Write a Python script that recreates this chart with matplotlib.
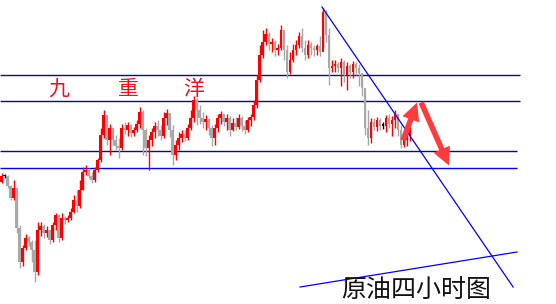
import matplotlib
matplotlib.use("Agg")
import matplotlib.pyplot as plt
from matplotlib.patches import FancyArrowPatch
import numpy as np

# Crude oil, 4-hour candles
close = [62.4, 62.4, 61.4, 60.2, 61.2, 57.2, 53.8, 55.2, 56.2, 55.8,
         55.0, 52.8, 57.0, 57.4, 56.7, 57.0, 56.0, 57.5, 58.5, 56.2,
         58.2, 58.0, 58.2, 58.8, 60.0, 59.4, 61.0, 62.8, 63.0, 62.4,
         62.0, 63.0, 64.0, 66.5, 68.5, 66.0, 67.2, 66.0, 65.4, 65.2,
         67.2, 67.0, 67.5, 66.7, 67.0, 67.6, 68.8, 67.0, 65.2, 66.0,
         66.8, 67.4, 67.0, 66.4, 68.2, 68.7, 67.0, 64.5, 65.5, 66.2,
         66.6, 66.2, 67.2, 68.2, 70.0, 69.0, 68.2, 67.8, 68.1, 67.2,
         66.2, 67.2, 68.2, 68.6, 67.8, 68.2, 67.0, 67.7, 67.3, 68.2,
         67.4, 67.0, 68.0, 68.3, 69.5, 72.0, 74.5, 75.8, 76.6, 75.6,
         75.8, 75.0, 75.2, 77.0, 75.0, 72.8, 74.0, 75.0, 75.5, 76.4,
         75.2, 74.5, 75.5, 75.2, 75.0, 75.4, 74.8, 78.8, 76.5, 73.2,
         73.4, 73.6, 73.2, 73.8, 72.5, 73.4, 72.8, 73.6, 73.2, 72.7,
         71.2, 67.2, 66.2, 67.8, 67.3, 68.0, 67.4, 67.4, 68.2, 67.6,
         68.0, 68.6, 67.0, 65.5, 66.0, 66.4, 67.0]
high = [62.7, 62.6, 62.5, 61.5, 62.0, 61.0, 57.5, 55.5, 56.6, 56.4,
        56.0, 56.0, 57.8, 57.8, 57.6, 57.4, 57.0, 57.8, 58.7, 58.6,
        58.7, 58.4, 58.5, 59.2, 60.5, 61.0, 62.0, 63.3, 63.5, 63.2,
        62.8, 63.3, 64.2, 67.2, 69.0, 68.5, 67.6, 67.2, 66.5, 66.2,
        67.6, 67.8, 67.8, 67.6, 67.3, 68.0, 69.3, 69.0, 67.2, 66.5,
        67.2, 67.8, 68.0, 67.5, 68.8, 69.1, 68.5, 67.5, 66.0, 66.8,
        67.0, 67.0, 67.6, 69.0, 70.4, 70.2, 69.5, 68.8, 68.5, 68.2,
        67.5, 67.6, 68.6, 68.9, 68.6, 68.6, 68.4, 68.2, 68.3, 68.6,
        68.4, 68.0, 68.3, 68.6, 70.0, 72.5, 75.5, 77.0, 77.2, 76.8,
        76.2, 76.0, 75.6, 77.5, 76.8, 75.5, 74.8, 75.6, 76.0, 76.8,
        77.2, 76.0, 76.0, 75.8, 75.5, 75.6, 76.4, 79.2, 79.0, 77.2,
        74.0, 74.0, 73.8, 74.2, 74.0, 73.8, 73.6, 73.9, 73.8, 73.6,
        72.5, 70.8, 69.0, 68.2, 68.2, 68.3, 68.2, 67.8, 68.5, 68.6,
        68.4, 69.0, 68.6, 67.5, 66.3, 66.7, 67.3]
low = [61.7, 62.2, 61.2, 60.0, 60.0, 56.7, 53.2, 53.4, 55.0, 55.4,
       53.8, 51.8, 52.5, 56.4, 56.2, 56.3, 55.6, 55.8, 57.0, 55.8,
       56.0, 57.6, 57.8, 58.0, 58.7, 58.8, 59.2, 61.0, 62.5, 62.2,
       61.7, 61.8, 62.8, 63.8, 66.2, 65.5, 64.5, 65.5, 65.0, 64.2,
       65.0, 66.6, 66.4, 66.3, 66.4, 66.8, 67.2, 64.5, 64.4, 63.0,
       65.4, 66.2, 66.4, 66.0, 66.2, 67.5, 66.3, 63.5, 64.0, 65.0,
       65.8, 65.9, 66.0, 67.0, 67.8, 67.5, 67.6, 67.2, 67.0, 66.5,
       65.4, 65.5, 66.8, 67.6, 67.4, 67.0, 66.4, 66.9, 67.0, 67.1,
       66.9, 66.6, 66.8, 67.4, 68.0, 69.2, 71.8, 74.2, 75.5, 75.0,
       74.8, 74.4, 74.5, 75.0, 74.0, 72.2, 72.6, 73.8, 74.5, 75.2,
       74.8, 74.0, 74.2, 74.5, 74.4, 74.5, 74.4, 75.2, 75.8, 71.5,
       72.8, 72.8, 72.8, 71.4, 71.8, 71.0, 72.2, 72.2, 72.5, 71.4,
       70.4, 66.5, 65.5, 65.7, 67.0, 66.9, 67.0, 67.1, 66.8, 67.2,
       66.4, 67.2, 66.4, 65.2, 65.3, 65.4, 65.9]
open_first = 61.8

# Horizontal support / resistance levels
levels = [72.5, 69.9, 64.9]
neckline = 63.2
level_ends = [172.8, 172.8, 171.8]
neckline_end = 171.8

# Trend lines: (bar index, price) pairs
falling_trend = [(106.8, 79.3), (170.5, 51.3)]
rising_trend = [(99.5, 51.3), (171.8, 54.8)]

# Projected path: bounce then drop
bounce = [(133.5, 65.7), (138.8, 70.0)]
drop = [(139.5, 70.0), (149.5, 63.2)]

brand = ["九", "重", "洋"]
brand_x = [19.2, 42.2, 64.0]
brand_y = 71.1
title = "原油四小时图"

opens = [open_first] + close[:-1]
idx = np.arange(len(close))

fig = plt.figure(figsize=(5.56, 3.04), dpi=100)
ax = fig.add_axes([0, 0, 1, 1])
ax.set_xlim(-0.5, 184.8)
ax.set_ylim(49.6, 80.0)
ax.axis("off")

for i, o, c, h, l in zip(idx, opens, close, high, low):
    if c > o:
        col = "#ff0000"
    elif c < o:
        col = "#a8a8a8"
    else:
        col = "#000000"
    ax.vlines(i, l, h, color=col, lw=1.0, zorder=2)
    bottom = min(o, c)
    height = max(abs(c - o), 0.15)
    ax.bar(i, height, bottom=bottom, width=0.7, color=col, lw=0, zorder=3)

for lv, end in zip(levels, level_ends):
    ax.hlines(lv, -0.5, end, color="#0a0a8a", lw=1.0, zorder=1)
ax.hlines(neckline, -0.5, neckline_end, color="#0000ff", lw=1.0, zorder=1)

for seg in (falling_trend, rising_trend):
    (x0, y0), (x1, y1) = seg
    ax.plot([x0, x1], [y0, y1], color="#0000ff", lw=0.9, zorder=4)

for (x0, y0), (x1, y1) in (bounce, drop):
    arr = FancyArrowPatch((x0, y0), (x1, y1), arrowstyle="simple,head_width=1.6,head_length=1.6,tail_width=0.5",
                          mutation_scale=8, color="#ff3b3b", lw=0, zorder=5)
    ax.add_patch(arr)

for ch, bx in zip(brand, brand_x):
    ax.text(bx, brand_y, ch, color="#e8141e", fontsize=15, fontweight="light",
            family=["Noto Sans CJK SC", "DejaVu Sans"], ha="center", va="center", zorder=6)

ax.text(138.3, 50.9, title, color="#111111", fontsize=18, fontweight="light",
        family=["Noto Sans CJK SC", "DejaVu Sans"], ha="center", va="center", zorder=6)

fig.savefig("out.png", dpi=100)
